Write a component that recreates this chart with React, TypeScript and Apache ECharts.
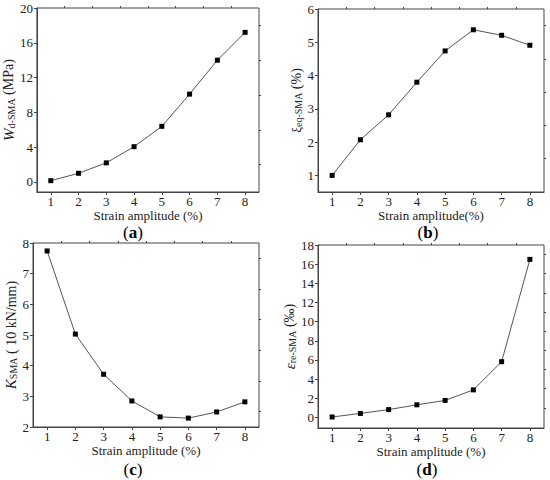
import React, { useEffect, useRef } from "react";
import * as echarts from "echarts";

const strain = [1, 2, 3, 4, 5, 6, 7, 8];
const wdSMA = [0.15, 1.0, 2.2, 4.06, 6.4, 10.1, 14.0, 17.2];
const xiSMA = [1.0, 2.07, 2.82, 3.8, 4.74, 5.375, 5.21, 4.91];
const kSMA = [7.74, 5.03, 3.72, 2.85, 2.33, 2.29, 2.49, 2.82];
const epsSMA = [0.05, 0.42, 0.82, 1.32, 1.78, 2.88, 5.82, 16.5];

const xMajor = [1, 2, 3, 4, 5, 6, 7, 8];
const xMinor = [1.5, 2.5, 3.5, 4.5, 5.5, 6.5, 7.5];

const yMajorA = [0, 4, 8, 12, 16, 20];
const yMinorA = [2, 6, 10, 14, 18];
const yMajorB = [1, 2, 3, 4, 5, 6];
const yMinorB = [1.5, 2.5, 3.5, 4.5, 5.5];
const yMajorC = [2, 3, 4, 5, 6, 7, 8];
const yMinorC = [2.5, 3.5, 4.5, 5.5, 6.5, 7.5];
const yMajorD = [0, 2, 4, 6, 8, 10, 12, 14, 16, 18];
const yMinorD = [1, 3, 5, 7, 9, 11, 13, 15, 17];

const FONT = "Liberation Serif";
const AXC = "#444";

export default function App() {
  const ref = useRef<HTMLDivElement>(null);
  useEffect(() => {
    document.body.style.margin = "0";
    const chart = echarts.init(ref.current!, null, { renderer: "svg" });

    const panels = [
      {
        grid: { left: 33, top: 8, width: 226, height: 184 },
        ymin: -1.15, ymax: 20, major: yMajorA, minor: yMinorA, data: wdSMA,
        xname: "Strain amplitude (%)",
        yname: "{i|W}{s|d-SMA}{n| (MPa)}",
      },
      {
        grid: { left: 318, top: 9, width: 226, height: 183 },
        ymin: 0.5, ymax: 6, major: yMajorB, minor: yMinorB, data: xiSMA,
        xname: "Strain amplitude(%)",
        yname: "{g|ξ}{s|eq-SMA}{n| (%)}",
      },
      {
        grid: { left: 33, top: 243, width: 226, height: 184 },
        ymin: 2, ymax: 8, major: yMajorC, minor: yMinorC, data: kSMA,
        xname: "Strain amplitude (%)",
        yname: "{i|K}{s|SMA}{n| ( 10 kN/mm)}",
      },
      {
        grid: { left: 318, top: 245, width: 226, height: 183 },
        ymin: -1.1, ymax: 18, major: yMajorD, minor: yMinorD, data: epsSMA,
        xname: "Strain amplitude (%)",
        yname: "{i|ε}{s|re-SMA}{n| (‰)}",
      },
    ];

    const rich = {
      i: { fontFamily: FONT, fontStyle: "italic", fontSize: 15, color: "#222" },
      g: { fontFamily: FONT, fontSize: 13, color: "#222" },
      s: { fontFamily: FONT, fontSize: 10, color: "#222", verticalAlign: "bottom", padding: [4, 0, 0, 0] },
      n: { fontFamily: FONT, fontSize: 14, color: "#222" },
    };

    const grids: any[] = [];
    const xAxes: any[] = [];
    const yAxes: any[] = [];
    const series: any[] = [];

    panels.forEach((p, idx) => {
      grids.push({ ...p.grid, show: true, borderColor: AXC, borderWidth: 1, backgroundColor: "transparent" });
      xAxes.push({
        type: "value", gridIndex: idx, min: 0.5, max: 8.5,
        name: p.xname, nameLocation: "middle", nameGap: 4,
        nameTextStyle: { fontFamily: FONT, fontSize: 13, color: "#222", lineHeight: 14 },
        axisLine: { show: true, onZero: false, lineStyle: { color: AXC, width: 1 } },
        axisTick: { show: true, inside: false, length: 3, customValues: xMajor, lineStyle: { color: AXC } },
        axisLabel: { show: true, customValues: xMajor, margin: 3, fontFamily: FONT, fontSize: 13, color: "#222" },
        splitLine: { show: false },
      });
      xAxes.push({
        type: "value", gridIndex: idx, min: 0.5, max: 8.5,
        axisLine: { show: false, onZero: false },
        axisTick: { show: true, inside: false, length: 2, customValues: xMinor, lineStyle: { color: AXC } },
        axisLabel: { show: false },
        splitLine: { show: false },
      });
      yAxes.push({
        type: "value", gridIndex: idx, min: p.ymin, max: p.ymax,
        name: p.yname, nameLocation: "middle", nameRotate: 90, nameGap: 12,
        nameTextStyle: { fontFamily: FONT, rich },
        axisLine: { show: true, onZero: false, lineStyle: { color: AXC, width: 1 } },
        axisTick: { show: true, inside: false, length: 3, customValues: p.major, lineStyle: { color: AXC } },
        axisLabel: { show: true, customValues: p.major, margin: 4, fontFamily: FONT, fontSize: 13, color: "#222" },
        splitLine: { show: false },
      });
      yAxes.push({
        type: "value", gridIndex: idx, min: p.ymin, max: p.ymax,
        axisLine: { show: false, onZero: false },
        axisTick: { show: true, inside: false, length: 2, customValues: p.minor, lineStyle: { color: AXC } },
        axisLabel: { show: false },
        splitLine: { show: false },
      });
      series.push({
        type: "line",
        xAxisIndex: idx * 2,
        yAxisIndex: idx * 2,
        data: strain.map((s, i) => [s, p.data[i]]),
        symbol: "rect",
        symbolSize: 5,
        showSymbol: true,
        lineStyle: { color: "#555", width: 1 },
        itemStyle: { color: "#000" },
      });
    });

    const labelPos = [
      { t: "a", x: 133, y: 232 },
      { t: "b", x: 428, y: 232 },
      { t: "c", x: 133, y: 469 },
      { t: "d", x: 427, y: 469 },
    ];

    chart.setOption({
      animation: false,
      backgroundColor: "#fff",
      textStyle: { fontFamily: FONT },
      grid: grids,
      xAxis: xAxes,
      yAxis: yAxes,
      series,
      graphic: labelPos.map((l) => ({
        type: "text",
        x: l.x,
        y: l.y,
        style: {
          text: `{n|(}{b|${l.t}}{n|)}`,
          align: "center",
          verticalAlign: "middle",
          rich: {
            n: { fontFamily: FONT, fontSize: 17, lineHeight: 18, color: "#111" },
            b: { fontFamily: FONT, fontSize: 17, lineHeight: 18, fontWeight: "bold", color: "#111" },
          },
        },
      })),
    });
    return () => chart.dispose();
  }, []);
  return <div ref={ref} style={{ width: 550, height: 480 }} />;
}
